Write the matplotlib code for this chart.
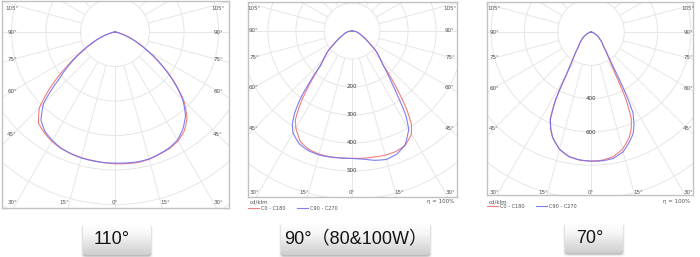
import numpy as np
import matplotlib.pyplot as plt
from matplotlib.patches import FancyBboxPatch, Circle
from matplotlib.colors import LinearSegmentedColormap

# light distribution curves in cd/klm
# angle from nadir in degrees, negative = left half of the diagram
ang_110 = [-90, -85, -80, -75, -70, -65, -60, -55, -50, -45, -40, -35, -30, -25, -20, -15, -10, -5,
           0, 5, 10, 15, 20, 25, 30, 35, 40, 45, 50, 55, 60, 65, 70, 75, 80, 85, 90]
c0_110 = [0, 4, 8, 15, 39, 69, 109, 164, 237, 310, 345, 357, 366, 372, 375, 377, 378, 380,
          382, 383, 384, 382, 377, 373, 365, 350, 325, 282, 223, 163, 109, 69, 39, 15, 8, 4, 0]
c90_110 = [0, 4, 8, 15, 39, 68, 105, 156, 211, 293, 334, 353, 363, 371, 375, 378, 379, 380,
           380, 381, 382, 381, 376, 371, 362, 343, 318, 278, 220, 161, 108, 69, 39, 15, 8, 4, 0]

ang_90 = [-90, -80, -70, -65, -60, -55, -50, -45, -42.5, -40, -37.5, -35, -32.5, -30, -25, -20, -15, -10, -5,
          0, 5, 10, 15, 20, 25, 30, 32.5, 35, 37.5, 40, 42.5, 45, 50, 55, 60, 65, 70, 80, 90]
c0_90 = [0, 15, 29, 38, 54, 73, 112, 144, 163, 211, 268, 327, 376, 401, 436, 450, 455, 456, 455,
         455, 456, 457, 459, 458, 450, 425, 395, 339, 271, 214, 163, 144, 112, 73, 54, 38, 29, 15, 0]
c90_90 = [0, 15, 29, 38, 54, 73, 112, 145, 167, 226, 300, 357, 397, 421, 445, 455, 458, 457, 455,
          455, 459, 469, 475, 468, 449, 405, 358, 286, 233, 196, 162, 144, 112, 73, 54, 38, 29, 15, 0]

ang_70 = [-90, -80, -70, -60, -50, -45, -40, -35, -32.5, -30, -27.5, -25, -22.5, -20, -15, -10, -5,
          0, 5, 10, 15, 20, 22.5, 25, 27.5, 30, 32.5, 35, 40, 45, 50, 60, 70, 80, 90]
c0_70 = [0, 6, 16, 40, 74, 96, 120, 176, 218, 296, 466, 580, 632, 674, 730, 760, 772,
         774, 772, 760, 728, 672, 630, 572, 450, 292, 216, 176, 120, 96, 74, 40, 16, 6, 0]
c90_70 = [0, 6, 16, 40, 74, 96, 120, 176, 216, 290, 460, 576, 630, 672, 728, 758, 770,
          775, 776, 770, 744, 690, 660, 610, 544, 382, 248, 184, 120, 96, 74, 40, 16, 6, 0]

ring_labels_90 = [200, 300, 400, 500]
ring_labels_70 = [400, 600]
side_angles = [105, 90, 75, 60, 45, 30]
bottom_angles = [15, 0]
series_names = ['C0 - C180', 'C90 - C270']
beam_labels = ['110°', '90°（80&100W）', '70°']

W, H = 700, 257
red_c = '#f07070'
blue_c = '#7070f4'
grid_c = '#e6e6e6'
txt_c = '#505050'

fig = plt.figure(figsize=(W / 100, H / 100), dpi=100)

# pixel-space overlay for the buttons underneath
bg = fig.add_axes([0, 0, 1, 1])
bg.axis('off')


def add_panel(box, centre, scale, ring_px, ang, red, blue, ring_labels, lab_dx, lab_bot_y, footer):
    x0, y0, x1, y1 = box
    cx, cy = centre
    ax = fig.add_axes([x0 / W, 1 - y1 / H, (x1 - x0) / W, (y1 - y0) / H])
    ax.set_xlim(x0 - cx, x1 - cx)
    ax.set_ylim(cy - y1, cy - y0)
    ax.set_xticks([])
    ax.set_yticks([])
    for sp in ax.spines.values():
        sp.set_color('#c2c2c2')
        sp.set_linewidth(1.0)

    # polar grid
    for k in range(1, 9):
        ax.add_patch(Circle((0, 0), k * ring_px, fill=False, ec=grid_c, lw=0.7, zorder=1))
    for a in range(0, 360, 15):
        t = np.radians(a)
        ax.plot([ring_px * np.sin(t), 400 * np.sin(t)], [-ring_px * np.cos(t), -400 * np.cos(t)],
                color=grid_c, lw=0.7, zorder=1)

    # curves, drawn the way a polar axis draws them (linear in angle and radius)
    fine = np.linspace(ang[0], ang[-1], 721)
    t = np.radians(fine)
    for vals, col, name in ((red, red_c, series_names[0]), (blue, blue_c, series_names[1])):
        r = np.interp(fine, ang, vals) * scale
        ax.plot(r * np.sin(t), -r * np.cos(t), color=col, lw=0.8, alpha=0.9, label=name, zorder=3)

    # angle labels
    lab_bot = lab_bot_y - cy
    lab_top = cy - 8
    for a in side_angles:
        y = lab_dx / np.tan(np.radians(a))
        y = min(max(y, -lab_top), lab_bot)
        for s in (-1, 1):
            ax.text(s * lab_dx, -y, f'{a}°', ha='center', va='center', fontsize=4, color=txt_c)
    for a in bottom_angles:
        x = lab_bot * np.tan(np.radians(a)) + 4.5 * (a > 0)
        for s in ((-1, 1) if a else (1,)):
            ax.text(s * x, -lab_bot, f'{a}°', ha='center', va='center', fontsize=4, color=txt_c)

    for v in ring_labels:
        ax.text(0, -v * scale, str(v), ha='center', va='center', fontsize=4, color='#333333', zorder=4)

    if footer:
        ax.text(x0 - cx + 2, cy - 202, 'cd/klm', ha='left', va='center', fontsize=4,
                color=txt_c, clip_on=False)
        ax.text(x1 - cx - 3, cy - 202, 'η = 100%', ha='right', va='center', fontsize=4,
                color=txt_c, clip_on=False)
        ax.legend(loc='upper left', bbox_to_anchor=(0.0, -0.045), ncol=2, frameon=False,
                  fontsize=3.6, handlelength=2.2, handletextpad=0.4, columnspacing=2.2,
                  borderpad=0, borderaxespad=0, labelcolor=txt_c)
    return ax


add_panel((2, 1, 229, 208), (115, 32), 0.345, 34.5, ang_110, c0_110, c90_110, [], 103, 203, False)
add_panel((248, 2, 457, 197), (352, 31), 0.28, 28, ang_90, c0_90, c90_90, ring_labels_90, 98, 192, True)
add_panel((487, 2, 693, 195), (591, 32), 0.1667, 33.3, ang_70, c0_70, c90_70, ring_labels_70, 97, 192, True)

# beam angle buttons
button_boxes = [(83, 224, 151, 255, 112), (281, 223, 430, 255, 356), (565, 223, 623, 253, 590)]
ramp = LinearSegmentedColormap.from_list('btn', ['#ffffff', '#f6f6f6', '#e2e2e2', '#cfcfcf'])
grad = np.linspace(0, 1, 64).reshape(-1, 1)
for (bx0, by0, bx1, by1, tx), txt in zip(button_boxes, beam_labels):
    for k, al in enumerate([0.16, 0.08, 0.04]):
        bg.add_patch(FancyBboxPatch((bx0 - k, by0 + 1), bx1 - bx0 + 2 * k, by1 - by0 + k + 0.5,
                                    boxstyle='round,pad=0,rounding_size=3', fc='k', ec='none',
                                    alpha=al, zorder=1))
    body = FancyBboxPatch((bx0, by0), bx1 - bx0, by1 - by0, boxstyle='round,pad=0,rounding_size=3',
                          fc='none', ec='none', zorder=2)
    bg.add_patch(body)
    im = bg.imshow(grad, extent=(bx0, bx1, by1, by0), cmap=ramp, aspect='auto', zorder=2)
    im.set_clip_path(body)
    bg.text(tx, (by0 + by1) / 2 + 0.5, txt, ha='center', va='center', fontsize=13,
            family=['Liberation Sans', 'Noto Sans CJK SC'], color='#151515', zorder=3)

bg.set_xlim(0, W)
bg.set_ylim(H, 0)

fig.savefig('out.png', dpi=100, facecolor='white')
